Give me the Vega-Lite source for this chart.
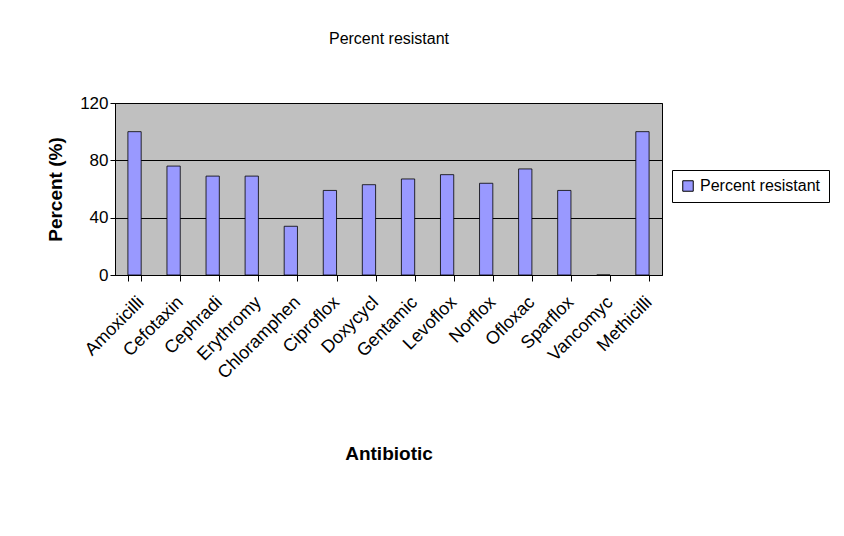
{
  "$schema": "https://vega.github.io/schema/vega-lite/v6.json",
  "width": 547,
  "height": 172,
  "autosize": "none",
  "padding": {"left": 115, "top": 103, "right": 182, "bottom": 261},
  "background": "white",
  "config": {
    "font": "Liberation Sans",
    "view": {"fill": "#c0c0c0", "stroke": "#000", "strokeWidth": 1}
  },
  "title": {
    "text": "Figure 2: Antimicrobial sensitivity pattern shown by multi drug resistant MRSA",
    "orient": "bottom",
    "anchor": "middle",
    "font": "Liberation Serif",
    "fontSize": 18,
    "fontWeight": "bold",
    "color": "black",
    "offset": 146,
    "dx": 34
  },
  "data": {
    "values": [
      {"antibiotic": "Amoxicilli", "pct": 100},
      {"antibiotic": "Cefotaxin", "pct": 76},
      {"antibiotic": "Cephradi", "pct": 69},
      {"antibiotic": "Erythromy", "pct": 69},
      {"antibiotic": "Chloramphen", "pct": 34},
      {"antibiotic": "Ciproflox", "pct": 59},
      {"antibiotic": "Doxycycl", "pct": 63},
      {"antibiotic": "Gentamic", "pct": 67},
      {"antibiotic": "Levoflox", "pct": 70},
      {"antibiotic": "Norflox", "pct": 64},
      {"antibiotic": "Ofloxac", "pct": 74},
      {"antibiotic": "Sparflox", "pct": 59},
      {"antibiotic": "Vancomyc", "pct": 0},
      {"antibiotic": "Methicilli", "pct": 100}
    ]
  },
  "resolve": {"axis": {"x": "independent"}},
  "layer": [
    {
      "mark": {"type": "bar", "stroke": "#000", "strokeWidth": 0.8},
      "encoding": {
        "x": {
          "field": "antibiotic",
          "type": "nominal",
          "sort": null,
          "scale": {"paddingInner": 0.66, "paddingOuter": 0.33},
          "axis": {
            "title": "Antibiotic",
            "titleFontSize": 19,
            "titleFontWeight": "bold",
            "titleColor": "black",
            "titlePadding": 62,
            "labelAngle": -45,
            "labelAlign": "right",
            "labelBaseline": "top",
            "labelFontSize": 18,
            "labelColor": "black",
            "labelPadding": 12,
            "domainColor": "black",
            "tickColor": "black",
            "tickBand": "extent",
            "tickSize": 6
          }
        },
        "y": {
          "field": "pct",
          "type": "quantitative",
          "scale": {"domain": [0, 120]},
          "axis": {
            "title": "Percent (%)",
            "titleFontSize": 19,
            "titleFontWeight": "bold",
            "titleColor": "black",
            "titlePadding": 14,
            "values": [0, 20, 40, 60, 80, 100, 120],
            "labelOverlap": false,
            "labelFontSize": 17,
            "labelColor": "black",
            "gridColor": "black",
            "gridOpacity": 1,
            "domainColor": "black",
            "tickColor": "black",
            "tickSize": 5
          }
        },
        "color": {
          "datum": "Percent resistant",
          "scale": {"range": ["#9999ff"]},
          "legend": {
            "title": null,
            "orient": "none",
            "legendX": 557,
            "legendY": 67,
            "symbolType": "square",
            "symbolSize": 110,
            "symbolStrokeColor": "black",
            "symbolStrokeWidth": 1,
            "labelFontSize": 16,
            "labelColor": "black",
            "strokeColor": "black",
            "padding": 8,
            "fillColor": "white"
          }
        }
      }
    },
    {
      "mark": {"type": "bar", "opacity": 0},
      "encoding": {
        "x": {
          "field": "antibiotic",
          "type": "nominal",
          "sort": null,
          "axis": {
            "orient": "top",
            "title": "Percent resistant",
            "titleFontSize": 16,
            "titleFontWeight": "normal",
            "titleColor": "black",
            "titlePadding": 57,
            "labels": false,
            "ticks": false,
            "domain": false
          }
        },
        "y": {"field": "pct", "type": "quantitative"}
      }
    }
  ]
}
